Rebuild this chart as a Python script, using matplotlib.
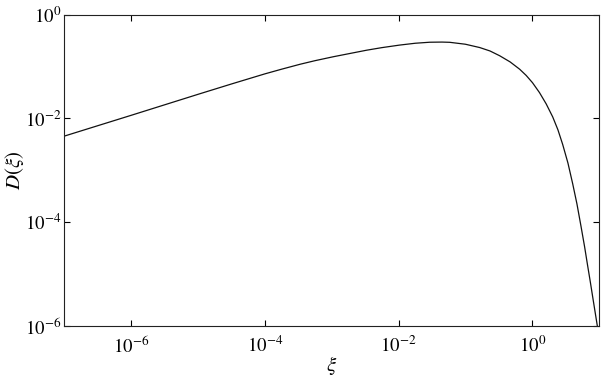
"""
plot.py – D(xi) distribution on log-log axes
"""

import matplotlib
matplotlib.use("Agg")
import matplotlib.pyplot as plt


# values
xi = [1e-7, 1e-6, 1e-5, 3.16e-5, 1e-4, 1.78e-4, 3.37e-4, 5.62e-4, 1.06e-3, 2.0e-3,
      3.33e-3, 5.62e-3, 1.04e-2, 1.78e-2, 2.93e-2, 4.47e-2, 5.83e-2, 0.1, 0.164, 0.234,
      0.326, 0.468, 0.649, 0.813, 1.01, 1.285, 1.62, 2.03, 2.43, 2.86,
      3.43, 4.04, 4.68, 5.38, 6.10, 6.76, 7.41, 8.02, 8.71, 9.44]
D = [4.57e-3, 1.15e-2, 2.92e-2, 4.62e-2, 7.24e-2, 8.91e-2, 0.111, 0.130, 0.155, 0.182,
     0.207, 0.232, 0.260, 0.282, 0.295, 0.297, 0.294, 0.270, 0.233, 0.200,
     0.162, 0.123, 0.0891, 0.0676, 0.0490, 0.0316, 0.0191, 0.0107, 6.03e-3, 3.16e-3,
     1.38e-3, 5.50e-4, 2.24e-4, 8.32e-5, 3.31e-5, 1.45e-5, 7.08e-6, 3.72e-6, 1.91e-6, 1.0e-6]

x_ticks = [1e-6, 1e-4, 1e-2, 1e0]
y_ticks = [1e-6, 1e-4, 1e-2, 1e0]
x_labels = [r"$10^{-6}$", r"$10^{-4}$", r"$10^{-2}$", r"$10^{0}$"]
y_labels = [r"$10^{-6}$", r"$10^{-4}$", r"$10^{-2}$", r"$10^{0}$"]

plt.rcParams["font.family"] = ["Liberation Serif", "DejaVu Serif"]
plt.rcParams["mathtext.fontset"] = "stix"


fig = plt.figure(figsize=(6.02, 3.78), dpi=100)
ax = fig.add_axes([0.107, 0.138, 0.888, 0.823])

ax.loglog(xi, D, color="#111111", lw=0.9)

ax.set_xlim(1e-7, 1e1)
ax.set_ylim(1e-6, 1e0)
ax.set_xticks(x_ticks)
ax.set_xticklabels(x_labels)
ax.set_yticks(y_ticks)
ax.set_yticklabels(y_labels)
ax.minorticks_off()
ax.tick_params(which="major", direction="in", length=4, width=0.8,
               top=True, right=True, labelsize=13.5)
ax.tick_params(axis="x", pad=7)
ax.tick_params(axis="y", pad=2)

for s in ax.spines.values():
    s.set_linewidth(0.8)
    s.set_color("#222222")

ax.set_xlabel(r"$\xi$", fontsize=15)
ax.set_ylabel(r"$D(\xi)$", fontsize=15)
ax.xaxis.set_label_coords(0.5, -0.09)
ax.yaxis.set_label_coords(-0.072, 0.5)

fig.savefig("out.png", dpi=100)
